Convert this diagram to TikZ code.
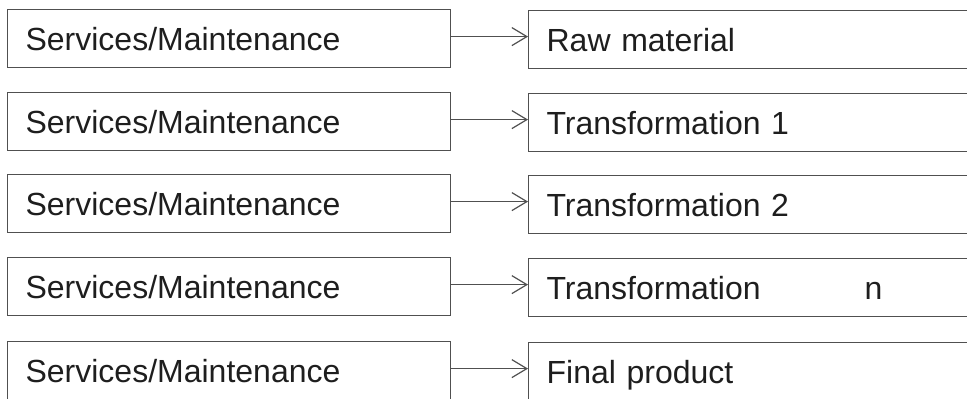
\documentclass[tikz,border=0pt]{standalone}
\usepackage{fontspec}
\setmainfont{Liberation Sans}
\usetikzlibrary{arrows.meta}
\definecolor{edge}{HTML}{505050}
\definecolor{ink}{HTML}{1E1E1E}
\begin{document}
\begin{tikzpicture}[x=1pt,y=-1pt,
  every node/.style={font=\fontsize{32}{38}\selectfont, text=ink},
  box/.style={draw=edge, line width=1.2pt, rectangle, anchor=north west,
    minimum height=58pt, inner xsep=18pt, align=left,
    text height=23pt, text depth=0pt},
  lbox/.style={box, minimum width=443pt, text width=407pt},
  rbox/.style={box, minimum width=500pt, text width=464pt},
  arr/.style={draw=edge, line width=1.2pt,
    -{Straight Barb[length=15pt,width=18pt]}}]
  \useasboundingbox (0,0) rectangle (967,399);
  \clip (0,0) rectangle (967,399);

  % services column
  \node[lbox] (s1) at (7,9)   {Services/Maintenance};
  \node[lbox] (s2) at (7,92)  {Services/Maintenance};
  \node[lbox] (s3) at (7,174) {Services/Maintenance};
  \node[lbox] (s4) at (7,257) {Services/Maintenance};
  \node[lbox] (s5) at (7,341) {Services/Maintenance};

  % production stages
  \node[rbox] (p1) at (528,10)  {Raw material};
  \node[rbox] (p2) at (528,93)  {Transformation 1};
  \node[rbox] (p3) at (528,175) {Transformation 2};
  \node[rbox] (p4) at (528,258) {Transformation\hspace*{104pt}n};
  \node[rbox] (p5) at (528,342) {Final product};

  % links
  \foreach \i in {1,...,5}
    \draw[arr] ([yshift=2pt]s\i.east) -- ([yshift=2pt]s\i.east -| p\i.west);
\end{tikzpicture}
\end{document}
